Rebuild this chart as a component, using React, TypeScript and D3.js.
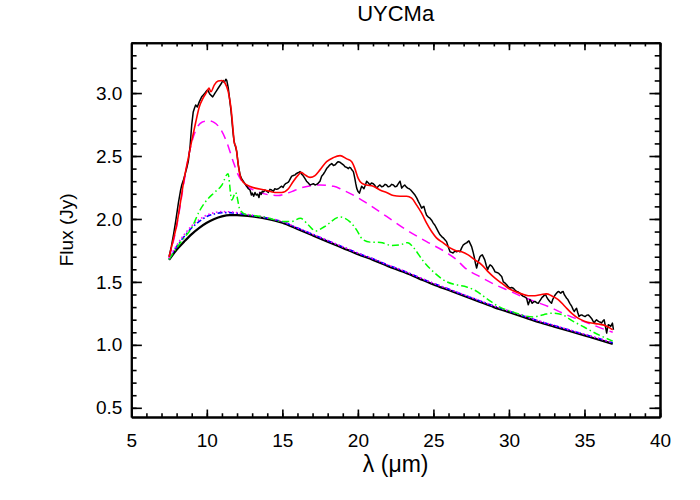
import React, { useEffect, useRef } from 'react';
import * as d3 from 'd3';

const width = 700;
const height = 500;
const plotLeft = 131.3;
const plotRight = 660;
const plotTop = 42.7;
const plotBottom = 417;

const xTicks = [5, 10, 15, 20, 25, 30, 35, 40];
const yTicks = [0.5, 1.0, 1.5, 2.0, 2.5, 3.0];

// observed spectrum [lambda (um), flux (Jy)]
const observed: [number, number][] = [
  [7.5, 1.70], [7.65, 1.78], [7.8, 1.88], [7.95, 1.99], [8.12, 2.13], [8.25, 2.22], [8.34, 2.27],
  [8.45, 2.31], [8.55, 2.35], [8.66, 2.40], [8.77, 2.456], [8.89, 2.575], [9.0, 2.747], [9.1, 2.85],
  [9.18, 2.88], [9.26, 2.905], [9.37, 2.89], [9.5, 2.93], [9.58, 2.95], [9.66, 2.97], [9.77, 2.985],
  [9.88, 3.0], [9.97, 3.015], [10.06, 3.025], [10.14, 3.005], [10.21, 2.99], [10.3, 2.98],
  [10.39, 2.97], [10.47, 2.985], [10.54, 3.0], [10.65, 3.02], [10.76, 3.04], [10.87, 3.06],
  [10.98, 3.08], [11.04, 3.095], [11.09, 3.10], [11.15, 3.085], [11.2, 3.095], [11.26, 3.11],
  [11.32, 3.10], [11.37, 3.07], [11.42, 3.04], [11.48, 2.98], [11.53, 2.93], [11.6, 2.86],
  [11.65, 2.80], [11.7, 2.73], [11.75, 2.67], [11.8, 2.62], [11.86, 2.59], [11.92, 2.565],
  [11.98, 2.535], [12.03, 2.48], [12.08, 2.43], [12.14, 2.39], [12.2, 2.35], [12.3, 2.32],
  [12.41, 2.30], [12.52, 2.28], [12.64, 2.26], [12.75, 2.24], [12.86, 2.23], [12.95, 2.19],
  [13.01, 2.205], [13.1, 2.18], [13.19, 2.21], [13.28, 2.19], [13.37, 2.197], [13.45, 2.17],
  [13.52, 2.21], [13.6, 2.195], [13.67, 2.22], [13.76, 2.215], [13.85, 2.23], [13.96, 2.22],
  [14.07, 2.21], [14.18, 2.235], [14.29, 2.23], [14.4, 2.22], [14.5, 2.24], [14.62, 2.235],
  [14.73, 2.24], [14.84, 2.25], [14.96, 2.26], [15.05, 2.25], [15.13, 2.27], [15.21, 2.28],
  [15.29, 2.285], [15.37, 2.29], [15.44, 2.30], [15.53, 2.32], [15.62, 2.34], [15.73, 2.345],
  [15.84, 2.35], [15.92, 2.36], [16.0, 2.365], [16.08, 2.37], [16.17, 2.376], [16.25, 2.36],
  [16.33, 2.35], [16.39, 2.34], [16.5, 2.32], [16.6, 2.30], [16.72, 2.285], [16.83, 2.27],
  [16.94, 2.275], [17.05, 2.28], [17.16, 2.27], [17.27, 2.275], [17.38, 2.285], [17.49, 2.30],
  [17.6, 2.34], [17.71, 2.355], [17.82, 2.376], [17.93, 2.40], [18.04, 2.415], [18.15, 2.43],
  [18.27, 2.44], [18.38, 2.425], [18.5, 2.43], [18.6, 2.445], [18.7, 2.455], [18.82, 2.45],
  [18.93, 2.44], [19.04, 2.43], [19.15, 2.415], [19.26, 2.41], [19.37, 2.40], [19.45, 2.41],
  [19.52, 2.405], [19.6, 2.39], [19.7, 2.376], [19.75, 2.35], [19.8, 2.32], [19.86, 2.28],
  [19.92, 2.245], [20.0, 2.22], [20.1, 2.205], [20.18, 2.235], [20.25, 2.26], [20.33, 2.25],
  [20.4, 2.24], [20.5, 2.27], [20.58, 2.30], [20.7, 2.285], [20.8, 2.27], [20.9, 2.285],
  [21.02, 2.28], [21.13, 2.265], [21.25, 2.245], [21.35, 2.26], [21.46, 2.27], [21.57, 2.255],
  [21.68, 2.26], [21.8, 2.275], [21.9, 2.27], [22.0, 2.255], [22.12, 2.26], [22.24, 2.275],
  [22.35, 2.27], [22.46, 2.255], [22.57, 2.26], [22.68, 2.28], [22.79, 2.30], [22.9, 2.245],
  [23.0, 2.26], [23.1, 2.27], [23.2, 2.255], [23.3, 2.245], [23.4, 2.24], [23.5, 2.23],
  [23.64, 2.21], [23.78, 2.19], [23.9, 2.165], [24.0, 2.14], [24.11, 2.115], [24.22, 2.086],
  [24.3, 2.095], [24.37, 2.10], [24.46, 2.06], [24.55, 2.03], [24.66, 2.015], [24.77, 2.006],
  [24.88, 1.99], [24.99, 1.967], [25.1, 1.95], [25.2, 1.927], [25.32, 1.90], [25.44, 1.874],
  [25.55, 1.86], [25.65, 1.85], [25.76, 1.835], [25.87, 1.82], [25.98, 1.78], [26.1, 1.74],
  [26.2, 1.735], [26.3, 1.73], [26.43, 1.745], [26.53, 1.74], [26.65, 1.745], [26.76, 1.74],
  [26.87, 1.77], [26.98, 1.795], [27.1, 1.805], [27.2, 1.81], [27.28, 1.82], [27.35, 1.826],
  [27.45, 1.80], [27.53, 1.78], [27.62, 1.74], [27.7, 1.70], [27.78, 1.65], [27.86, 1.61],
  [27.92, 1.64], [27.97, 1.66], [28.08, 1.70], [28.16, 1.71], [28.24, 1.715], [28.32, 1.695],
  [28.4, 1.675], [28.5, 1.63], [28.59, 1.596], [28.67, 1.62], [28.75, 1.636], [28.82, 1.63],
  [28.9, 1.62], [29.0, 1.60], [29.08, 1.58], [29.2, 1.575], [29.3, 1.57], [29.42, 1.555],
  [29.52, 1.543], [29.58, 1.52], [29.63, 1.50], [29.75, 1.49], [29.85, 1.477], [29.96, 1.46],
  [30.07, 1.45], [30.18, 1.455], [30.29, 1.45], [30.4, 1.435], [30.51, 1.424], [30.62, 1.42],
  [30.73, 1.41], [30.84, 1.395], [30.95, 1.385], [31.06, 1.38], [31.17, 1.37], [31.23, 1.34],
  [31.28, 1.318], [31.34, 1.34], [31.39, 1.36], [31.47, 1.345], [31.54, 1.33], [31.63, 1.34],
  [31.72, 1.345], [31.83, 1.335], [31.94, 1.33], [32.02, 1.345], [32.1, 1.36], [32.18, 1.375],
  [32.27, 1.385], [32.35, 1.395], [32.42, 1.40], [32.5, 1.38], [32.6, 1.36], [32.7, 1.345],
  [32.82, 1.33], [32.9, 1.36], [33.0, 1.385], [33.08, 1.40], [33.15, 1.41], [33.22, 1.42],
  [33.3, 1.424], [33.37, 1.415], [33.43, 1.41], [33.5, 1.42], [33.59, 1.424], [33.66, 1.40],
  [33.74, 1.385], [33.82, 1.37], [33.9, 1.36], [34.03, 1.33], [34.16, 1.305], [34.25, 1.28],
  [34.33, 1.265], [34.4, 1.28], [34.48, 1.29], [34.56, 1.255], [34.64, 1.225], [34.73, 1.235],
  [34.82, 1.238], [34.93, 1.23], [35.04, 1.225], [35.15, 1.235], [35.25, 1.238], [35.36, 1.225],
  [35.47, 1.21], [35.56, 1.19], [35.65, 1.173], [35.72, 1.19], [35.8, 1.20], [35.88, 1.19],
  [35.96, 1.185], [36.05, 1.18], [36.13, 1.173], [36.22, 1.19], [36.3, 1.20], [36.38, 1.15],
  [36.47, 1.094], [36.52, 1.13], [36.58, 1.16], [36.66, 1.155], [36.74, 1.147], [36.8, 1.16],
  [36.85, 1.173], [36.92, 1.12],
];

// total model (red)
const totalModel: [number, number][] = [
  [7.5, 1.70], [7.75, 1.82], [8.0, 1.95], [8.25, 2.13], [8.5, 2.32], [8.75, 2.47], [9.0, 2.62],
  [9.25, 2.76], [9.5, 2.89], [9.75, 2.96], [10.0, 3.01], [10.14, 3.04], [10.27, 3.01], [10.5, 3.065],
  [10.75, 3.095], [11.0, 3.10], [11.2, 3.08], [11.42, 3.01], [11.6, 2.88], [11.75, 2.69],
  [11.82, 2.60], [11.92, 2.575], [12.0, 2.51], [12.13, 2.39], [12.3, 2.31], [12.64, 2.27],
  [13.2, 2.245], [13.85, 2.23], [14.5, 2.21], [14.96, 2.21], [15.4, 2.24], [15.73, 2.30],
  [16.06, 2.35], [16.25, 2.37], [16.5, 2.35], [16.83, 2.33], [17.16, 2.345], [17.49, 2.39],
  [17.93, 2.455], [18.37, 2.487], [18.82, 2.503], [19.26, 2.477], [19.59, 2.455], [19.8, 2.40],
  [20.03, 2.32], [20.25, 2.284], [20.58, 2.27], [21.02, 2.26], [21.46, 2.23], [21.9, 2.21],
  [22.35, 2.186], [22.79, 2.18], [23.23, 2.18], [23.56, 2.165], [23.89, 2.11], [24.22, 2.046],
  [24.55, 1.967], [24.88, 1.90], [25.2, 1.85], [25.65, 1.81], [26.1, 1.77], [26.5, 1.748],
  [26.87, 1.74], [27.3, 1.715], [27.75, 1.675], [28.2, 1.636], [28.63, 1.58], [29.08, 1.53],
  [29.52, 1.49], [29.96, 1.45], [30.4, 1.424], [30.84, 1.405], [31.28, 1.39], [31.72, 1.39],
  [32.16, 1.40], [32.5, 1.405], [32.82, 1.39], [33.26, 1.36], [33.71, 1.305], [34.16, 1.25],
  [34.6, 1.21], [35.04, 1.186], [35.48, 1.173], [35.92, 1.165], [36.36, 1.154], [36.69, 1.133],
  [36.87, 1.12],
];

// dust component (magenta dashed)
const dustModel: [number, number][] = [
  [7.5, 1.69], [8.0, 1.94], [8.5, 2.30], [8.9, 2.56], [9.33, 2.72], [9.7, 2.77], [10.1, 2.78],
  [10.5, 2.765], [10.87, 2.72], [11.32, 2.61], [11.75, 2.455], [12.08, 2.35], [12.53, 2.27],
  [13.0, 2.235], [13.63, 2.205], [14.2, 2.19], [14.73, 2.186], [15.2, 2.20], [15.62, 2.217],
  [16.2, 2.245], [16.8, 2.262], [17.5, 2.27], [18.4, 2.26], [19.0, 2.23], [19.7, 2.19],
  [20.6, 2.125], [21.9, 2.02], [23.2, 1.914], [24.55, 1.82], [25.9, 1.73], [26.5, 1.68],
  [27.1, 1.61], [28.1, 1.54], [29.1, 1.477], [30.0, 1.43], [30.84, 1.385], [31.7, 1.345],
  [32.6, 1.305], [33.5, 1.255], [34.4, 1.21], [35.3, 1.17], [36.1, 1.133], [36.87, 1.10],
];

// feature component (green dash-dot)
const featureModel: [number, number][] = [
  [7.5, 1.68], [8.0, 1.77], [8.5, 1.85], [9.0, 1.93], [9.5, 2.06], [10.0, 2.15], [10.5, 2.21],
  [11.0, 2.27], [11.4, 2.36], [11.65, 2.15], [11.9, 2.21], [12.2, 2.07], [12.6, 2.035],
  [13.0, 2.03], [14.0, 2.01], [15.0, 1.98], [15.6, 1.98], [16.2, 2.005], [16.7, 1.955],
  [17.2, 1.905], [17.8, 1.94], [18.8, 2.015], [19.5, 1.975], [19.9, 1.915], [20.3, 1.84],
  [20.8, 1.816], [21.5, 1.814], [22.2, 1.79], [22.8, 1.795], [23.3, 1.812], [23.7, 1.77],
  [24.3, 1.67], [25.0, 1.58], [25.9, 1.50], [26.6, 1.475], [27.2, 1.46], [27.8, 1.43],
  [28.5, 1.37], [29.4, 1.30], [30.3, 1.26], [31.0, 1.232], [31.6, 1.222], [32.3, 1.24],
  [32.8, 1.252], [33.5, 1.24], [34.2, 1.19], [35.0, 1.14], [35.6, 1.10], [36.3, 1.06],
  [36.87, 1.03],
];

// stellar photosphere (black thick)
const continuum: [number, number][] = [
  [7.5, 1.675], [8.0, 1.755], [8.5, 1.82], [9.0, 1.88], [9.5, 1.93], [10.0, 1.97], [10.5, 2.0],
  [11.0, 2.02], [11.5, 2.03], [12.0, 2.03], [12.5, 2.027], [13.0, 2.02], [14.0, 2.0], [15.0, 1.97],
  [16.0, 1.92], [17.0, 1.87], [18.0, 1.82], [19.0, 1.77], [20.0, 1.72], [21.0, 1.675],
  [22.0, 1.625], [23.0, 1.58], [24.0, 1.53], [25.0, 1.48], [26.0, 1.435], [27.0, 1.39],
  [28.0, 1.345], [29.0, 1.30], [30.0, 1.26], [31.0, 1.22], [32.0, 1.18], [33.0, 1.145],
  [34.0, 1.11], [35.0, 1.075], [36.0, 1.04], [36.87, 1.008],
];

// continuum + hot dust (blue dash-dot)
const hotDust: [number, number][] = [
  [7.5, 1.68], [8.0, 1.78], [8.5, 1.86], [9.0, 1.93], [9.5, 1.98], [10.0, 2.02], [10.5, 2.04],
  [11.0, 2.05], [11.5, 2.05], [12.0, 2.045], [12.5, 2.037], [13.0, 2.028], [14.0, 2.008],
  [15.0, 1.978], [16.0, 1.928], [17.0, 1.878], [18.0, 1.828], [19.0, 1.778], [20.0, 1.728],
  [21.0, 1.683], [22.0, 1.633], [23.0, 1.588], [24.0, 1.538], [25.0, 1.488], [26.0, 1.443],
  [27.0, 1.398], [28.0, 1.353], [29.0, 1.308], [30.0, 1.268], [31.0, 1.228], [32.0, 1.188],
  [33.0, 1.153], [34.0, 1.118], [35.0, 1.083], [36.0, 1.048], [36.87, 1.016],
];

// continuum + warm dust (magenta dotted)
const warmDust: [number, number][] = [
  [7.5, 1.685], [8.0, 1.79], [8.5, 1.875], [9.0, 1.945], [9.5, 1.995], [10.0, 2.03], [10.5, 2.05],
  [11.0, 2.058], [11.5, 2.057], [12.0, 2.05], [12.5, 2.04], [13.0, 2.03], [14.0, 2.009],
  [15.0, 1.979], [16.0, 1.929], [17.0, 1.879], [18.0, 1.829], [19.0, 1.779], [20.0, 1.729],
  [21.0, 1.684], [22.0, 1.634], [23.0, 1.589], [24.0, 1.539], [25.0, 1.489], [26.0, 1.444],
  [27.0, 1.399], [28.0, 1.354], [29.0, 1.309], [30.0, 1.269], [31.0, 1.229], [32.0, 1.189],
  [33.0, 1.154], [34.0, 1.119], [35.0, 1.084], [36.0, 1.049], [36.87, 1.017],
];

const font = '"Liberation Sans", Arial, sans-serif';

const App = () => {
  const svgRef = useRef<SVGSVGElement>(null);

  useEffect(() => {
    const svg = d3.select(svgRef.current);
    svg.selectAll('*').remove();

    const x = d3.scaleLinear().domain([5, 40]).range([plotLeft, plotRight]);
    const y = d3.scaleLinear().domain([0.427, 3.4]).range([plotBottom, plotTop]);

    const smooth = d3.line<[number, number]>()
      .x(d => x(d[0]))
      .y(d => y(d[1]))
      .curve(d3.curveMonotoneX);
    const raw = d3.line<[number, number]>()
      .x(d => x(d[0]))
      .y(d => y(d[1]));

    const curves = svg.append('g').attr('fill', 'none');

    const draw = (data, gen, color, w, dash?) => {
      const p = curves.append('path')
        .datum(data)
        .attr('d', gen)
        .attr('stroke', color)
        .attr('stroke-width', w)
        .attr('stroke-linejoin', 'round');
      if (dash) p.attr('stroke-dasharray', dash);
    };

    draw(continuum, smooth, '#000', 2.2);
    draw(hotDust, smooth, '#0000ff', 1.6, '5,2.5,1.5,2.5');
    draw(warmDust, smooth, '#ff00ff', 1.6, '1.5,2.5');
    draw(featureModel, smooth, '#00ff00', 1.5, '7,3,1.5,3');
    draw(dustModel, smooth, '#ff00ff', 1.5, '9,6');
    draw(observed, raw, '#000', 1.5);
    draw(totalModel, smooth, '#ff0000', 1.6);

    // axes, IDL style: ticks inward on all four sides
    const majorX = 0.02 * (plotBottom - plotTop);
    const majorY = 0.02 * (plotRight - plotLeft);
    const minorXTicks = d3.range(5, 41, 1);
    const minorYTicks = d3.range(5, 35, 1).map(v => v / 10);

    const styleAxis = g => {
      g.selectAll('.domain').attr('stroke-width', 2);
      g.selectAll('line').attr('stroke-width', 1.6);
      g.selectAll('text')
        .style('font-family', font)
        .style('font-size', '19px')
        .attr('fill', '#000');
    };

    svg.append('g')
      .attr('transform', `translate(0,${plotBottom})`)
      .call(d3.axisBottom(x).tickValues(xTicks).tickFormat(d3.format('d'))
        .tickSizeInner(-majorX).tickSizeOuter(0).tickPadding(17))
      .call(styleAxis);
    svg.append('g')
      .attr('transform', `translate(0,${plotBottom})`)
      .call(d3.axisBottom(x).tickValues(minorXTicks).tickFormat(() => '')
        .tickSizeInner(-majorX / 2).tickSizeOuter(0))
      .call(styleAxis);
    svg.append('g')
      .attr('transform', `translate(0,${plotTop})`)
      .call(d3.axisTop(x).tickValues(xTicks).tickFormat(() => '')
        .tickSizeInner(-majorX).tickSizeOuter(0))
      .call(styleAxis);
    svg.append('g')
      .attr('transform', `translate(0,${plotTop})`)
      .call(d3.axisTop(x).tickValues(minorXTicks).tickFormat(() => '')
        .tickSizeInner(-majorX / 2).tickSizeOuter(0))
      .call(styleAxis);

    svg.append('g')
      .attr('transform', `translate(${plotLeft},0)`)
      .call(d3.axisLeft(y).tickValues(yTicks).tickFormat(d3.format('.1f'))
        .tickSizeInner(-majorY).tickSizeOuter(0).tickPadding(9))
      .call(styleAxis);
    svg.append('g')
      .attr('transform', `translate(${plotLeft},0)`)
      .call(d3.axisLeft(y).tickValues(minorYTicks).tickFormat(() => '')
        .tickSizeInner(-majorY / 2).tickSizeOuter(0))
      .call(styleAxis);
    svg.append('g')
      .attr('transform', `translate(${plotRight},0)`)
      .call(d3.axisRight(y).tickValues(yTicks).tickFormat(() => '')
        .tickSizeInner(-majorY).tickSizeOuter(0))
      .call(styleAxis);
    svg.append('g')
      .attr('transform', `translate(${plotRight},0)`)
      .call(d3.axisRight(y).tickValues(minorYTicks).tickFormat(() => '')
        .tickSizeInner(-majorY / 2).tickSizeOuter(0))
      .call(styleAxis);

    const cx = (plotLeft + plotRight) / 2;
    const cy = (plotTop + plotBottom) / 2;

    svg.append('text')
      .attr('x', cx).attr('y', 21)
      .attr('text-anchor', 'middle')
      .style('font-family', font).style('font-size', '22px')
      .text('UYCMa');

    svg.append('text')
      .attr('x', cx).attr('y', 472)
      .attr('text-anchor', 'middle')
      .style('font-family', font).style('font-size', '23px')
      .text('λ (μm)');

    svg.append('text')
      .attr('transform', `translate(73,${cy}) rotate(-90)`)
      .attr('text-anchor', 'middle')
      .style('font-family', font).style('font-size', '19px')
      .text('Flux (Jy)');
  }, []);

  return (
    <svg
      ref={svgRef}
      width={width}
      height={height}
      style={{ position: 'absolute', left: 0, top: 0, background: '#fff' }}
    />
  );
};

export default App;
